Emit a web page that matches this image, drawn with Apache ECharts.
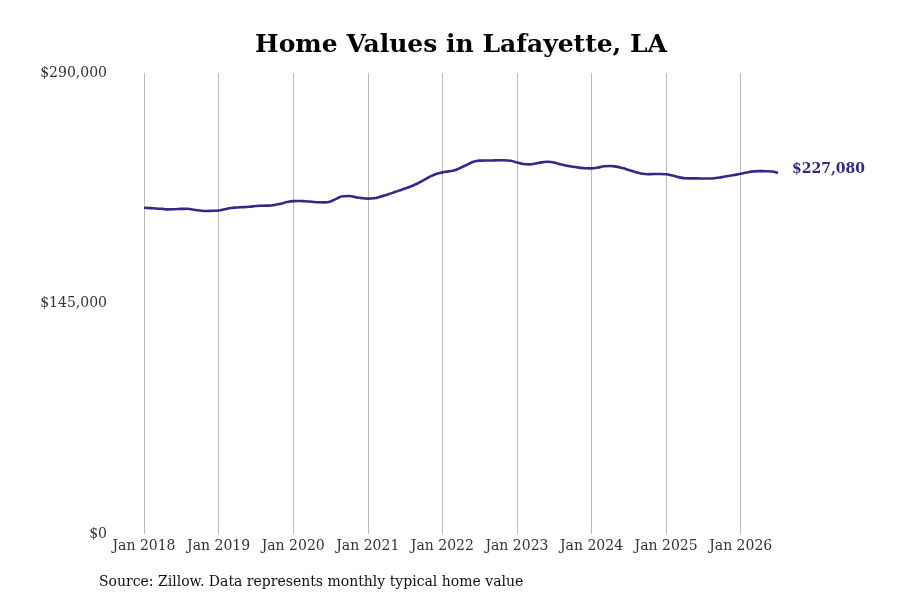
<!DOCTYPE html>
<html>
<head>
<meta charset="utf-8">
<script src="https://cdn.jsdelivr.net/npm/echarts@6/dist/echarts.min.js"></script>
<style>
  html, body { margin: 0; padding: 0; background: #fff; }
  #chart { width: 900px; height: 600px; }
</style>
</head>
<body>
<div id="chart"></div>
<script>
// monthly typical home value, Jan 2018 .. Jul 2026
const years = [2018, 2019, 2020, 2021, 2022, 2023, 2024, 2025, 2026];
const monthNames = ['Jan', 'Feb', 'Mar', 'Apr', 'May', 'Jun', 'Jul', 'Aug', 'Sep', 'Oct', 'Nov', 'Dec'];

const values2018 = [205200, 205000, 204800, 204500, 204200, 204300, 204500, 204600, 204000, 203500, 203200, 203300];
const values2019 = [203500, 204300, 205100, 205400, 205600, 205900, 206300, 206500, 206600, 207000, 207800, 208800];
const values2020 = [209400, 209500, 209300, 209000, 208700, 208600, 209200, 211000, 212500, 212600, 211900, 211300];
const values2021 = [211000, 211200, 212100, 213300, 214600, 216000, 217300, 218800, 220500, 222600, 224800, 226500];
const values2022 = [227500, 228100, 228800, 230500, 232400, 234200, 234900, 235000, 235000, 235100, 235100, 234800];
const values2023 = [233700, 232800, 232500, 233100, 233800, 234200, 233700, 232600, 231700, 231000, 230500, 230100];
const values2024 = [230000, 230500, 231300, 231500, 231100, 230200, 229000, 227800, 226800, 226300, 226500, 226500];
const values2025 = [226300, 225500, 224500, 223800, 223700, 223700, 223600, 223600, 223900, 224500, 225200, 225800];
const values2026 = [226600, 227400, 228100, 228300, 228200, 228000, 227080];

const yTicks = [0, 145000, 290000];

const values = [].concat(values2018, values2019, values2020, values2021, values2022,
  values2023, values2024, values2025, values2026);

let categories = [];
years.forEach((y) => {
  monthNames.forEach((m) => {
    categories.push(m + ' ' + y);
  });
});
categories = categories.slice(0, values.length);

const lineColor = '#2f2b87';
const serif = '"DejaVu Serif", serif';

function isJan(idx) {
  return idx % 12 === 0;
}

function money(v) {
  return '$' + v.toLocaleString('en-US');
}

const chart = echarts.init(document.getElementById('chart'));
chart.setOption({
  backgroundColor: '#fff',
  animation: false,
  title: {
    text: 'Home Values in Lafayette, LA',
    left: 456,
    textAlign: 'center',
    top: 28,
    textStyle: { fontFamily: serif, fontSize: 25, fontWeight: 'bold', color: '#000' }
  },
  graphic: [{
    type: 'text',
    left: 99,
    top: 575,
    style: {
      text: 'Source: Zillow. Data represents monthly typical home value',
      font: '14px ' + serif,
      fill: '#111'
    }
  }],
  grid: { left: 144, right: 122, top: 73, bottom: 66 },
  xAxis: {
    type: 'category',
    data: categories,
    boundaryGap: false,
    axisLine: { show: false },
    axisTick: { show: false },
    axisLabel: {
      interval: (idx) => isJan(idx),
      margin: 5,
      color: '#333',
      fontFamily: serif,
      fontSize: 14
    },
    splitLine: {
      show: true,
      interval: (idx) => isJan(idx),
      lineStyle: { color: '#bbb', width: 1 }
    }
  },
  yAxis: {
    type: 'value',
    min: yTicks[0],
    max: yTicks[yTicks.length - 1],
    interval: yTicks[1] - yTicks[0],
    axisLine: { show: false },
    axisTick: { show: false },
    splitLine: { show: false },
    axisLabel: {
      align: 'right',
      margin: 37,
      color: '#333',
      fontFamily: serif,
      fontSize: 14,
      formatter: (v) => money(v)
    }
  },
  series: [{
    type: 'line',
    data: values,
    smooth: true,
    showSymbol: false,
    lineStyle: { color: lineColor, width: 2.6 },
    itemStyle: { color: lineColor },
    endLabel: {
      show: true,
      distance: 14,
      offset: [0, -4],
      formatter: (p) => money(p.value),
      color: lineColor,
      fontFamily: serif,
      fontSize: 14,
      fontWeight: 'bold'
    }
  }]
});
</script>
</body>
</html>
